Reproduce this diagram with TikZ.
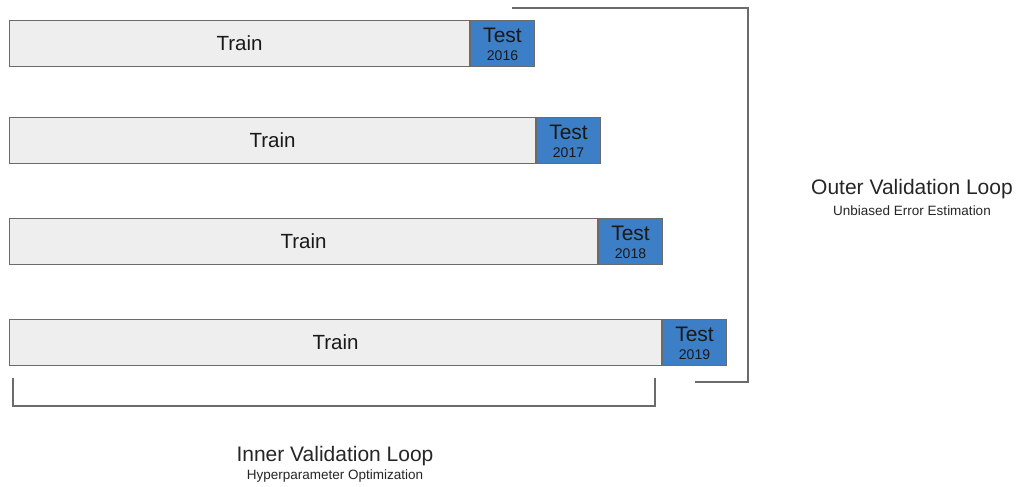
\documentclass[tikz,border=0pt]{standalone}
\usepackage{fontspec}
\setmainfont{Liberation Sans}
\definecolor{trainfill}{HTML}{EEEEEE}
\definecolor{testfill}{HTML}{3D7FC6}
\definecolor{edge}{HTML}{6B6B6B}
\begin{document}
\begin{tikzpicture}[x=1pt,y=-1pt,
  trainbox/.style={draw=edge,line width=1pt,fill=trainfill,inner sep=0pt,anchor=north west,
    font=\fontsize{20.5}{20.5}\selectfont,text=black!90},
  testbox/.style={draw=edge,line width=1pt,fill=testfill,inner sep=0pt,anchor=north west,
    minimum width=64pt,minimum height=46pt},
  testword/.style={font=\fontsize{21}{21}\selectfont,inner sep=0pt,text=black!90},
  yearword/.style={font=\fontsize{14}{14}\selectfont,inner sep=0pt,text=black!90},
  bracket/.style={draw=edge,line width=1.2pt},
  biglabel/.style={font=\fontsize{21}{22}\selectfont,text=black!85},
  smalllabel/.style={font=\fontsize{13.5}{14}\selectfont,text=black!85}]
\useasboundingbox (0,0) rectangle (1017,487);
% folds: train block followed by its test year
\foreach \i/\y/\w/\yr in {1/20/460/2016, 2/117/526/2017, 3/218/588/2018, 4/319/652/2019}{
  \node[trainbox,minimum width=\w pt,minimum height=46pt] (train\i) at (9,\y) {Train};
  \node[testbox] (test\i) at (train\i.north east) {};
  \node[testword] (testw\i) at ([yshift=8pt]test\i.center) {Test};
  \node[yearword] (year\i) at ([yshift=-12pt]test\i.center) {\yr};
}
% outer loop bracket
\coordinate (otop) at (512,8);
\coordinate (obot) at (695,382);
\draw[bracket] (otop) -- (748,8) -- (748,382) -- (obot);
\node[biglabel] (outer) at (912,189) {Outer Validation Loop};
\node[smalllabel] (outersub) at (912,211) {Unbiased Error Estimation};
% inner loop bracket
\coordinate (ileft) at (13,378);
\coordinate (iright) at (655,378);
\draw[bracket] (ileft) -- (13,406) -- (655,406) -- (iright);
\node[biglabel] (inner) at (335,456) {Inner Validation Loop};
\node[smalllabel] (innersub) at (335,476) {Hyperparameter Optimization};
\end{tikzpicture}
\end{document}
